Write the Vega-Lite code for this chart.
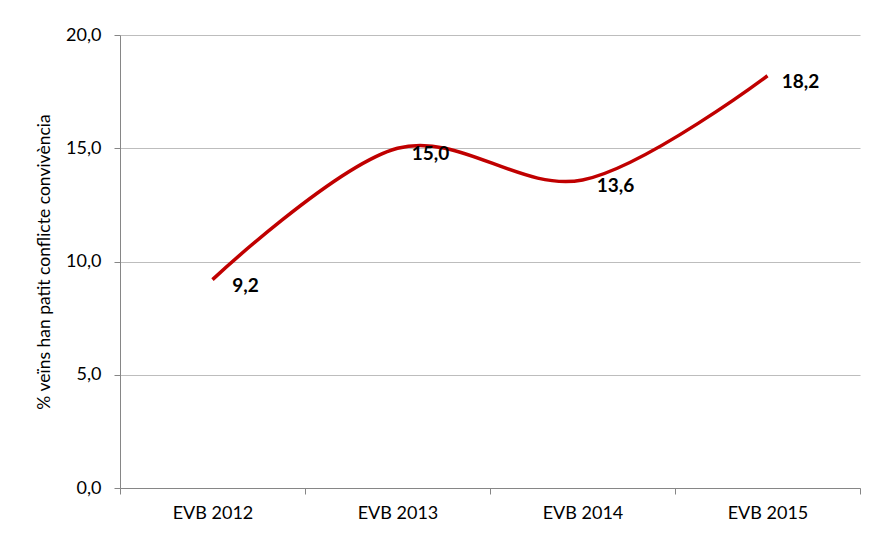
{
  "$schema": "https://vega.github.io/schema/vega-lite/v6.json",
  "autosize": {"type": "none"},
  "width": 740,
  "height": 453,
  "padding": {"left": 120, "top": 35, "right": 10, "bottom": 46},
  "background": "white",
  "config": {
    "locale": {"number": {"decimal": ",", "thousands": ".", "grouping": [3], "currency": ["", " €"]}},
    "view": {"stroke": null},
    "font": "Lato",
    "axis": {"labelFont": "Lato", "titleFont": "Lato", "labelColor": "#000", "titleColor": "#000", "domainColor": "#868686", "tickColor": "#868686", "gridColor": "#BDBDBD"}
  },
  "data": {"values": [
    {"periode": "EVB 2012", "valor": 9.2},
    {"periode": "EVB 2013", "valor": 15.0},
    {"periode": "EVB 2014", "valor": 13.6},
    {"periode": "EVB 2015", "valor": 18.2}
  ]},
  "encoding": {
    "x": {"field": "periode", "type": "nominal", "sort": null,
      "scale": {"paddingInner": 0, "paddingOuter": 0},
      "axis": {"title": null, "labelAngle": 0, "labelFontSize": 18, "labelPadding": 10, "tickBand": "extent", "tickSize": 6, "grid": false}},
    "y": {"field": "valor", "type": "quantitative",
      "scale": {"domain": [0, 20], "nice": false},
      "axis": {"title": "% veïns han patit conflicte convivència", "titleFontSize": 17.5, "titleFontWeight": "normal", "titlePadding": 12, "values": [0, 5, 10, 15, 20], "format": ".1f", "labelFontSize": 18, "labelPadding": 13, "tickSize": 6, "grid": true}}
  },
  "layer": [
    {"mark": {"type": "line", "interpolate": "cardinal", "color": "#C00000", "strokeWidth": 3.5}},
    {"mark": {"type": "text", "fontWeight": "bold", "fontSize": 19, "dx": 33, "dy": 6, "align": "center", "baseline": "middle", "color": "#000"},
      "encoding": {"text": {"field": "valor", "type": "quantitative", "format": ".1f"}}}
  ]
}
